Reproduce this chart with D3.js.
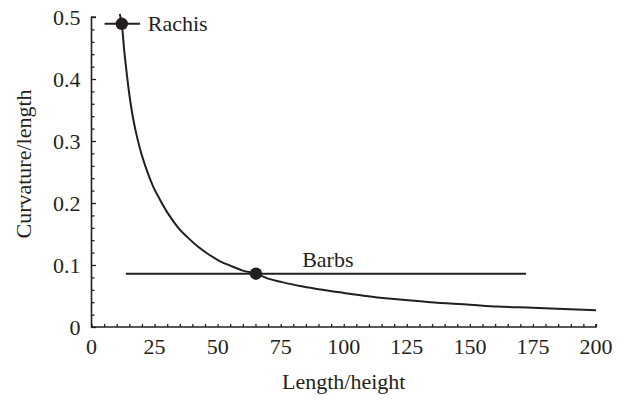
<!DOCTYPE html>
<html>
<head>
<meta charset="utf-8">
<script src="https://cdn.jsdelivr.net/npm/d3@7"></script>
<style>
  html, body { margin: 0; padding: 0; background: #fff; }
  svg { display: block; }
</style>
</head>
<body>
<svg id="chart" width="629" height="402" font-family="'Liberation Serif', 'Times New Roman', Times, serif"></svg>
<script>
// Curvature per unit length as a function of length/height
const curveX = [11.2, 12.0, 13.0, 14.0, 15.0, 16.0, 17.3, 19.2, 21.9, 24.5, 27.2, 30.5, 34.4, 38.0, 42.4, 46.5, 51.0, 55.0, 60.0, 65.2, 70.0, 75.0, 82.7, 90.0, 100.0, 107.9, 120.0, 134.3, 150.0, 160.8, 175.0, 187.2, 200.0];
const curveY = [0.505, 0.489, 0.445, 0.408, 0.375, 0.348, 0.320, 0.288, 0.253, 0.226, 0.205, 0.182, 0.160, 0.145, 0.129, 0.117, 0.106, 0.099, 0.091, 0.086, 0.078, 0.073, 0.066, 0.061, 0.055, 0.0505, 0.045, 0.040, 0.036, 0.033, 0.031, 0.029, 0.027];

// Measured structures: point with horizontal range
const pointNames = ["Rachis", "Barbs"];
const pointX = [12.0, 65.2];
const pointY = [0.489, 0.086];
const rangeLow = [5.2, 13.6];
const rangeHigh = [19.2, 172.3];

// Axis ticks
const xTickLabels = [0, 25, 50, 75, 100, 125, 150, 175, 200];
const yTickLabels = [0, 0.1, 0.2, 0.3, 0.4, 0.5];
const xMinorTicks = d3.range(0, 201, 5);
const yMinorTicks = d3.range(0, 0.501, 0.02);

const svg = d3.select("#chart");
const ink = "#231f20";
const fontSize = 22;

const x = d3.scaleLinear().domain([0, 200]).range([91.5, 596]);
const y = d3.scaleLinear().domain([0, 0.5]).range([327, 17]);

// Axes with inward ticks
const gx = svg.append("g").attr("transform", `translate(0,${y(0)})`);
gx.call(d3.axisBottom(x).tickValues(xMinorTicks).tickSize(-3).tickFormat(""));
gx.call(g => g.select(".domain").remove());
gx.selectAll("line").attr("stroke", ink).attr("stroke-width", 1.3);

const gy = svg.append("g").attr("transform", `translate(${x(0)},0)`);
gy.call(d3.axisLeft(y).tickValues(yMinorTicks).tickSize(-3).tickFormat(""));
gy.call(g => g.select(".domain").remove());
gy.selectAll("line").attr("stroke", ink).attr("stroke-width", 1.3);
gy.selectAll(".tick")
  .filter(d => Math.abs(d * 10 - Math.round(d * 10)) < 1e-6)
  .select("line").attr("x2", 4.5);

// Axis frame (left and bottom)
svg.append("path")
  .attr("d", `M${x(0)},${y(0.5) - 0.5}V${y(0)}H${x(200)}V${y(0) - 3}`)
  .attr("fill", "none").attr("stroke", ink).attr("stroke-width", 1.6);
svg.append("line")
  .attr("x1", x(0)).attr("x2", x(0) + 4.5)
  .attr("y1", y(0.5)).attr("y2", y(0.5))
  .attr("stroke", ink).attr("stroke-width", 1.3);

// Tick labels
svg.append("g").selectAll("text").data(xTickLabels).join("text")
  .attr("x", d => x(d)).attr("y", y(0) + 27)
  .attr("text-anchor", "middle").attr("font-size", fontSize)
  .attr("fill", ink)
  .text(d => d);

svg.append("g").selectAll("text").data(yTickLabels).join("text")
  .attr("x", x(0) - 11).attr("y", d => y(d))
  .attr("dy", "0.35em")
  .attr("text-anchor", "end").attr("font-size", fontSize)
  .attr("fill", ink)
  .text(d => d);

// Axis titles
svg.append("text")
  .attr("x", (x(0) + x(200)) / 2).attr("y", 389)
  .attr("text-anchor", "middle").attr("font-size", fontSize)
  .attr("fill", ink)
  .text("Length/height");

svg.append("text")
  .attr("transform", `translate(31,${(y(0) + y(0.5)) / 2 - 8}) rotate(-90)`)
  .attr("text-anchor", "middle").attr("font-size", fontSize)
  .attr("fill", ink)
  .text("Curvature/length");

// Curve
const line = d3.line()
  .x((d, i) => x(curveX[i]))
  .y((d, i) => y(curveY[i]))
  .curve(d3.curveMonotoneX);

svg.append("path")
  .datum(curveX)
  .attr("d", line)
  .attr("fill", "none")
  .attr("stroke", ink)
  .attr("stroke-width", 2);

// Horizontal ranges
svg.append("g").selectAll("line").data(pointNames).join("line")
  .attr("x1", (d, i) => x(rangeLow[i]))
  .attr("x2", (d, i) => x(rangeHigh[i]))
  .attr("y1", (d, i) => y(pointY[i]))
  .attr("y2", (d, i) => y(pointY[i]))
  .attr("stroke", ink).attr("stroke-width", 2);

// Points
svg.append("g").selectAll("circle").data(pointNames).join("circle")
  .attr("cx", (d, i) => x(pointX[i]))
  .attr("cy", (d, i) => y(pointY[i]))
  .attr("r", 6.2)
  .attr("fill", ink);

// Point labels
svg.append("text")
  .attr("x", x(pointX[0]) + 26).attr("y", y(pointY[0]) + 7)
  .attr("font-size", fontSize).attr("fill", ink)
  .text(pointNames[0]);

svg.append("text")
  .attr("x", x(83.5)).attr("y", y(pointY[1]) - 7)
  .attr("font-size", fontSize).attr("fill", ink)
  .text(pointNames[1]);
</script>
</body>
</html>
